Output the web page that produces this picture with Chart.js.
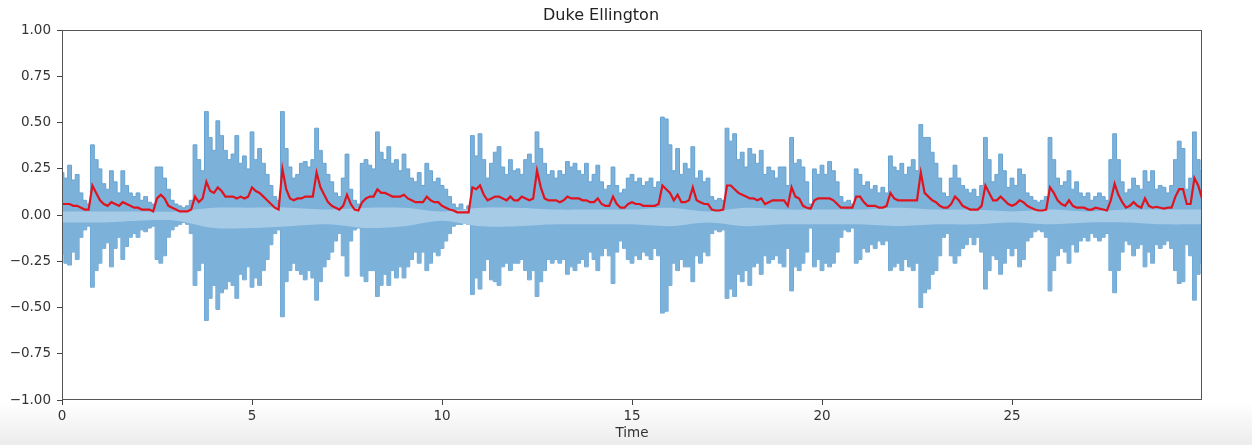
<!DOCTYPE html>
<html>
<head>
<meta charset="utf-8">
<script src="https://cdn.jsdelivr.net/npm/chart.js@4.4.0/dist/chart.umd.min.js"></script>
<style>
  html, body { margin: 0; padding: 0; }
  body { width: 1252px; height: 445px; background: linear-gradient(to bottom, #fff 0, #fff 402px, #ececec 445px); }
</style>
</head>
<body>
<canvas id="wave" width="1252" height="445"></canvas>
<script>
// ==== DATA (one value every 0.1 s) ====
const STEP = 0.1;
const X_TICKS = [0, 5, 10, 15, 20, 25];
const Y_TICKS = [-1, -0.75, -0.5, -0.25, 0, 0.25, 0.5, 0.75, 1];

// upper envelope of the waveform
const WAVE_TOP = [
  0.23, 0.20, 0.27, 0.19, 0.22, 0.12, 0.08, 0.06, 0.38, 0.30,
  0.25, 0.17, 0.14, 0.24, 0.18, 0.12, 0.24, 0.16, 0.12, 0.10,
  0.12, 0.08, 0.10, 0.07, 0.06, 0.26, 0.26, 0.20, 0.14, 0.08,
  0.06, 0.05, 0.04, 0.05, 0.08, 0.38, 0.30, 0.24, 0.56, 0.42,
  0.35, 0.51, 0.43, 0.35, 0.30, 0.33, 0.43, 0.28, 0.32, 0.25,
  0.45, 0.30, 0.36, 0.28, 0.22, 0.16, 0.10, 0.08, 0.56, 0.36,
  0.26, 0.20, 0.22, 0.28, 0.29, 0.26, 0.30, 0.47, 0.35, 0.28,
  0.22, 0.18, 0.12, 0.10, 0.20, 0.33, 0.14, 0.08, 0.06, 0.28,
  0.30, 0.27, 0.25, 0.45, 0.34, 0.30, 0.37, 0.28, 0.30, 0.24,
  0.33, 0.25, 0.20, 0.18, 0.23, 0.16, 0.28, 0.24, 0.18, 0.20,
  0.16, 0.14, 0.10, 0.06, 0.04, 0.06, 0.03, 0.05, 0.43, 0.32,
  0.44, 0.30, 0.20, 0.28, 0.34, 0.37, 0.26, 0.22, 0.30, 0.24,
  0.25, 0.22, 0.30, 0.33, 0.28, 0.45, 0.36, 0.28, 0.22, 0.24,
  0.20, 0.24, 0.22, 0.29, 0.26, 0.28, 0.24, 0.22, 0.28, 0.18,
  0.22, 0.27, 0.18, 0.14, 0.16, 0.26, 0.16, 0.12, 0.14, 0.20,
  0.22, 0.18, 0.20, 0.16, 0.18, 0.20, 0.15, 0.18, 0.53, 0.52,
  0.38, 0.24, 0.36, 0.22, 0.28, 0.25, 0.37, 0.20, 0.24, 0.18,
  0.20, 0.10, 0.08, 0.09, 0.08, 0.47, 0.40, 0.44, 0.30, 0.34,
  0.26, 0.36, 0.33, 0.28, 0.35, 0.22, 0.26, 0.24, 0.20, 0.26,
  0.26, 0.16, 0.42, 0.28, 0.30, 0.26, 0.18, 0.06, 0.25, 0.22,
  0.27, 0.22, 0.29, 0.24, 0.18, 0.10, 0.07, 0.08, 0.06, 0.25,
  0.22, 0.16, 0.18, 0.14, 0.16, 0.12, 0.15, 0.12, 0.32, 0.26,
  0.24, 0.28, 0.22, 0.26, 0.30, 0.24, 0.49, 0.42, 0.42, 0.34,
  0.28, 0.20, 0.12, 0.10, 0.20, 0.27, 0.20, 0.16, 0.14, 0.12,
  0.14, 0.10, 0.16, 0.42, 0.30, 0.18, 0.22, 0.33, 0.24, 0.15,
  0.20, 0.16, 0.25, 0.22, 0.12, 0.10, 0.08, 0.07, 0.08, 0.10,
  0.42, 0.30, 0.20, 0.16, 0.18, 0.24, 0.14, 0.18, 0.12, 0.10,
  0.12, 0.08, 0.10, 0.12, 0.10, 0.08, 0.30, 0.44, 0.30, 0.18,
  0.12, 0.14, 0.20, 0.16, 0.14, 0.24, 0.18, 0.24, 0.14, 0.16,
  0.15, 0.12, 0.16, 0.30, 0.40, 0.36, 0.14, 0.20, 0.45, 0.30,
  0.24
];

// lower envelope of the waveform
const WAVE_BOTTOM = [
  -0.21, -0.26, -0.27, -0.20, -0.24, -0.12, -0.08, -0.06, -0.39, -0.30,
  -0.26, -0.18, -0.15, -0.28, -0.18, -0.12, -0.24, -0.17, -0.12, -0.10,
  -0.12, -0.08, -0.09, -0.07, -0.06, -0.24, -0.26, -0.22, -0.12, -0.08,
  -0.06, -0.05, -0.04, -0.05, -0.10, -0.38, -0.30, -0.26, -0.57, -0.45,
  -0.38, -0.51, -0.42, -0.40, -0.36, -0.38, -0.45, -0.32, -0.35, -0.28,
  -0.39, -0.34, -0.38, -0.30, -0.24, -0.16, -0.10, -0.08, -0.55, -0.36,
  -0.30, -0.26, -0.30, -0.32, -0.35, -0.30, -0.34, -0.46, -0.36, -0.28,
  -0.24, -0.20, -0.14, -0.10, -0.22, -0.33, -0.14, -0.08, -0.07, -0.33,
  -0.36, -0.30, -0.30, -0.44, -0.38, -0.32, -0.38, -0.30, -0.34, -0.28,
  -0.34, -0.28, -0.24, -0.20, -0.26, -0.20, -0.30, -0.26, -0.20, -0.22,
  -0.18, -0.14, -0.10, -0.06, -0.05, -0.05, -0.04, -0.05, -0.43, -0.34,
  -0.40, -0.30, -0.24, -0.35, -0.36, -0.38, -0.28, -0.26, -0.30, -0.26,
  -0.26, -0.24, -0.30, -0.35, -0.30, -0.44, -0.36, -0.30, -0.24, -0.26,
  -0.24, -0.26, -0.24, -0.32, -0.28, -0.30, -0.26, -0.24, -0.28, -0.20,
  -0.24, -0.30, -0.22, -0.18, -0.22, -0.37, -0.20, -0.14, -0.18, -0.24,
  -0.26, -0.22, -0.24, -0.20, -0.22, -0.24, -0.18, -0.22, -0.53, -0.52,
  -0.38, -0.26, -0.30, -0.24, -0.28, -0.28, -0.36, -0.22, -0.26, -0.20,
  -0.22, -0.10, -0.08, -0.09, -0.08, -0.45, -0.40, -0.44, -0.32, -0.36,
  -0.30, -0.38, -0.28, -0.26, -0.32, -0.22, -0.26, -0.24, -0.22, -0.26,
  -0.28, -0.18, -0.41, -0.28, -0.30, -0.26, -0.20, -0.07, -0.28, -0.24,
  -0.30, -0.26, -0.28, -0.26, -0.20, -0.12, -0.08, -0.09, -0.07, -0.26,
  -0.24, -0.18, -0.20, -0.16, -0.18, -0.14, -0.16, -0.14, -0.30, -0.28,
  -0.26, -0.30, -0.24, -0.28, -0.30, -0.26, -0.50, -0.42, -0.40, -0.32,
  -0.30, -0.22, -0.12, -0.10, -0.22, -0.26, -0.22, -0.18, -0.16, -0.12,
  -0.16, -0.12, -0.20, -0.40, -0.30, -0.22, -0.24, -0.32, -0.26, -0.18,
  -0.22, -0.18, -0.28, -0.24, -0.14, -0.12, -0.09, -0.08, -0.09, -0.12,
  -0.41, -0.30, -0.22, -0.18, -0.20, -0.26, -0.16, -0.20, -0.14, -0.12,
  -0.14, -0.10, -0.12, -0.14, -0.12, -0.10, -0.30, -0.42, -0.30, -0.20,
  -0.14, -0.16, -0.22, -0.18, -0.16, -0.28, -0.20, -0.26, -0.16, -0.18,
  -0.16, -0.14, -0.18, -0.30, -0.37, -0.36, -0.16, -0.22, -0.46, -0.32,
  -0.26
];

// RMS energy (red line)
const RMS = [
  0.06, 0.06, 0.06, 0.05, 0.05, 0.04, 0.03, 0.03, 0.16, 0.12,
  0.08, 0.06, 0.05, 0.07, 0.06, 0.05, 0.07, 0.06, 0.05, 0.04,
  0.04, 0.03, 0.03, 0.03, 0.02, 0.09, 0.11, 0.09, 0.05, 0.04,
  0.03, 0.02, 0.02, 0.02, 0.03, 0.10, 0.07, 0.09, 0.18, 0.13,
  0.12, 0.15, 0.13, 0.10, 0.10, 0.10, 0.09, 0.10, 0.09, 0.10,
  0.15, 0.13, 0.12, 0.10, 0.08, 0.06, 0.04, 0.03, 0.25, 0.14,
  0.09, 0.08, 0.09, 0.09, 0.10, 0.10, 0.10, 0.23, 0.15, 0.11,
  0.07, 0.05, 0.04, 0.03, 0.05, 0.11, 0.06, 0.03, 0.025, 0.07,
  0.09, 0.10, 0.10, 0.14, 0.12, 0.12, 0.11, 0.10, 0.10, 0.10,
  0.11, 0.09, 0.08, 0.07, 0.07, 0.07, 0.10, 0.08, 0.07, 0.07,
  0.05, 0.04, 0.03, 0.025, 0.015, 0.015, 0.015, 0.015, 0.15, 0.14,
  0.16, 0.11, 0.08, 0.09, 0.10, 0.10, 0.09, 0.08, 0.10, 0.08,
  0.08, 0.10, 0.09, 0.08, 0.09, 0.24, 0.15, 0.09, 0.08, 0.08,
  0.08, 0.07, 0.08, 0.10, 0.09, 0.09, 0.09, 0.08, 0.08, 0.07,
  0.07, 0.09, 0.06, 0.05, 0.05, 0.10, 0.06, 0.04, 0.04, 0.06,
  0.07, 0.06, 0.06, 0.05, 0.05, 0.05, 0.05, 0.06, 0.16, 0.14,
  0.12, 0.08, 0.11, 0.07, 0.07, 0.08, 0.15, 0.08, 0.07, 0.06,
  0.06, 0.03, 0.025, 0.025, 0.03, 0.16, 0.16, 0.14, 0.12, 0.11,
  0.10, 0.09, 0.09, 0.08, 0.09, 0.06, 0.07, 0.08, 0.08, 0.08,
  0.08, 0.05, 0.15, 0.10, 0.09, 0.05, 0.04, 0.035, 0.08, 0.09,
  0.09, 0.09, 0.09, 0.08, 0.06, 0.04, 0.04, 0.04, 0.04, 0.10,
  0.10, 0.07, 0.05, 0.05, 0.05, 0.04, 0.04, 0.05, 0.12, 0.09,
  0.08, 0.08, 0.08, 0.08, 0.08, 0.08, 0.23, 0.12, 0.10, 0.08,
  0.07, 0.05, 0.04, 0.04, 0.06, 0.10, 0.08, 0.05, 0.04, 0.03,
  0.03, 0.03, 0.05, 0.16, 0.12, 0.08, 0.08, 0.10, 0.08, 0.06,
  0.05, 0.06, 0.08, 0.07, 0.05, 0.04, 0.03, 0.025, 0.025, 0.03,
  0.15, 0.12, 0.08, 0.06, 0.05, 0.08, 0.05, 0.04, 0.04, 0.04,
  0.03, 0.03, 0.04, 0.035, 0.03, 0.025, 0.08, 0.17, 0.11, 0.07,
  0.04, 0.05, 0.07, 0.05, 0.04, 0.09, 0.05, 0.04, 0.045, 0.04,
  0.035, 0.04, 0.04, 0.10, 0.14, 0.14, 0.06, 0.06, 0.20, 0.16,
  0.09
];

// lighter dense core round zero, one value per second
const CORE_TOP = [0.02, 0.02, 0.02, 0.02, 0.04, 0.04, 0.04, 0.03, 0.04, 0.04, 0.02,
  0.04, 0.04, 0.03, 0.03, 0.03, 0.04, 0.02, 0.04, 0.03, 0.03, 0.03, 0.04, 0.03, 0.03,
  0.02, 0.03, 0.02, 0.03, 0.03, 0.03];
const CORE_BOTTOM = [-0.04, -0.04, -0.03, -0.03, -0.07, -0.07, -0.06, -0.05, -0.07, -0.06, -0.03,
  -0.06, -0.06, -0.05, -0.05, -0.05, -0.06, -0.04, -0.06, -0.05, -0.05, -0.05, -0.06, -0.05, -0.05,
  -0.04, -0.05, -0.04, -0.04, -0.05, -0.05];

// Utilities
const FONT = 'DejaVu Sans';
const pts = (arr, step) => arr.map((v, i) => ({ x: +(i * step).toFixed(2), y: v }));
const fmtY = v => v.toFixed(2).replace('-', '\u2212');

// box round the plot, like matplotlib spines
const frame = {
  id: 'frame',
  afterDatasetsDraw(chart) {
    const { ctx, chartArea: a } = chart;
    ctx.save();
    ctx.strokeStyle = '#555';
    ctx.lineWidth = 1;
    ctx.strokeRect(Math.round(a.left) + 0.5, Math.round(a.top) + 0.5,
      Math.round(a.right - a.left) - 1, Math.round(a.bottom - a.top) - 1);
    ctx.restore();
  }
};

const envStyle = { pointRadius: 0, borderWidth: 1, stepped: 'middle', borderColor: '#66a3d2', backgroundColor: '#7cb1da' };
const coreStyle = { pointRadius: 0, borderWidth: 0, tension: 0.3, borderColor: '#a6cbe7', backgroundColor: '#a6cbe7' };

new Chart(document.getElementById('wave').getContext('2d'), {
  type: 'line',
  data: {
    datasets: [
      { label: 'rms', data: pts(RMS, STEP), borderColor: '#e0141e', borderWidth: 2.2, pointRadius: 0, tension: 0, fill: false, order: 0 },
      { label: 'top', data: pts(WAVE_TOP, STEP), fill: '+1', order: 2, ...envStyle },
      { label: 'bottom', data: pts(WAVE_BOTTOM, STEP), fill: false, order: 2, ...envStyle },
      { label: 'coreTop', data: pts(CORE_TOP, 1), fill: '+1', order: 1, ...coreStyle },
      { label: 'coreBottom', data: pts(CORE_BOTTOM, 1), fill: false, order: 1, ...coreStyle }
    ]
  },
  options: {
    responsive: false,
    animation: false,
    events: [],
    layout: { padding: { left: 0, right: 50, top: 0, bottom: 0 } },
    plugins: {
      legend: { display: false },
      tooltip: { enabled: false },
      title: {
        display: true, text: 'Duke Ellington', color: '#222',
        font: { family: FONT, size: 16, weight: 'normal' },
        padding: { top: 6, bottom: 5 }
      }
    },
    scales: {
      x: {
        type: 'linear', min: 0, max: 30,
        afterBuildTicks: s => { s.ticks = X_TICKS.map(v => ({ value: v })); },
        afterFit: s => { s.height = 45; },
        grid: { drawOnChartArea: false, drawTicks: true, tickLength: 5, color: '#444' },
        border: { display: false },
        ticks: { color: '#333', font: { family: FONT, size: 13.5 }, padding: 3, maxRotation: 0, callback: v => String(v) },
        title: { display: true, text: 'Time', color: '#333', font: { family: FONT, size: 13.5 }, padding: { top: 0, bottom: 3 } }
      },
      y: {
        min: -1, max: 1,
        afterBuildTicks: s => { s.ticks = Y_TICKS.map(v => ({ value: v })); },
        afterFit: s => { s.width = 62; },
        grid: { drawOnChartArea: false, drawTicks: true, tickLength: 5, color: '#444' },
        border: { display: false },
        ticks: { color: '#333', font: { family: FONT, size: 13.5 }, padding: 6, callback: v => fmtY(v) }
      }
    }
  },
  plugins: [frame]
});
</script>
</body>
</html>
